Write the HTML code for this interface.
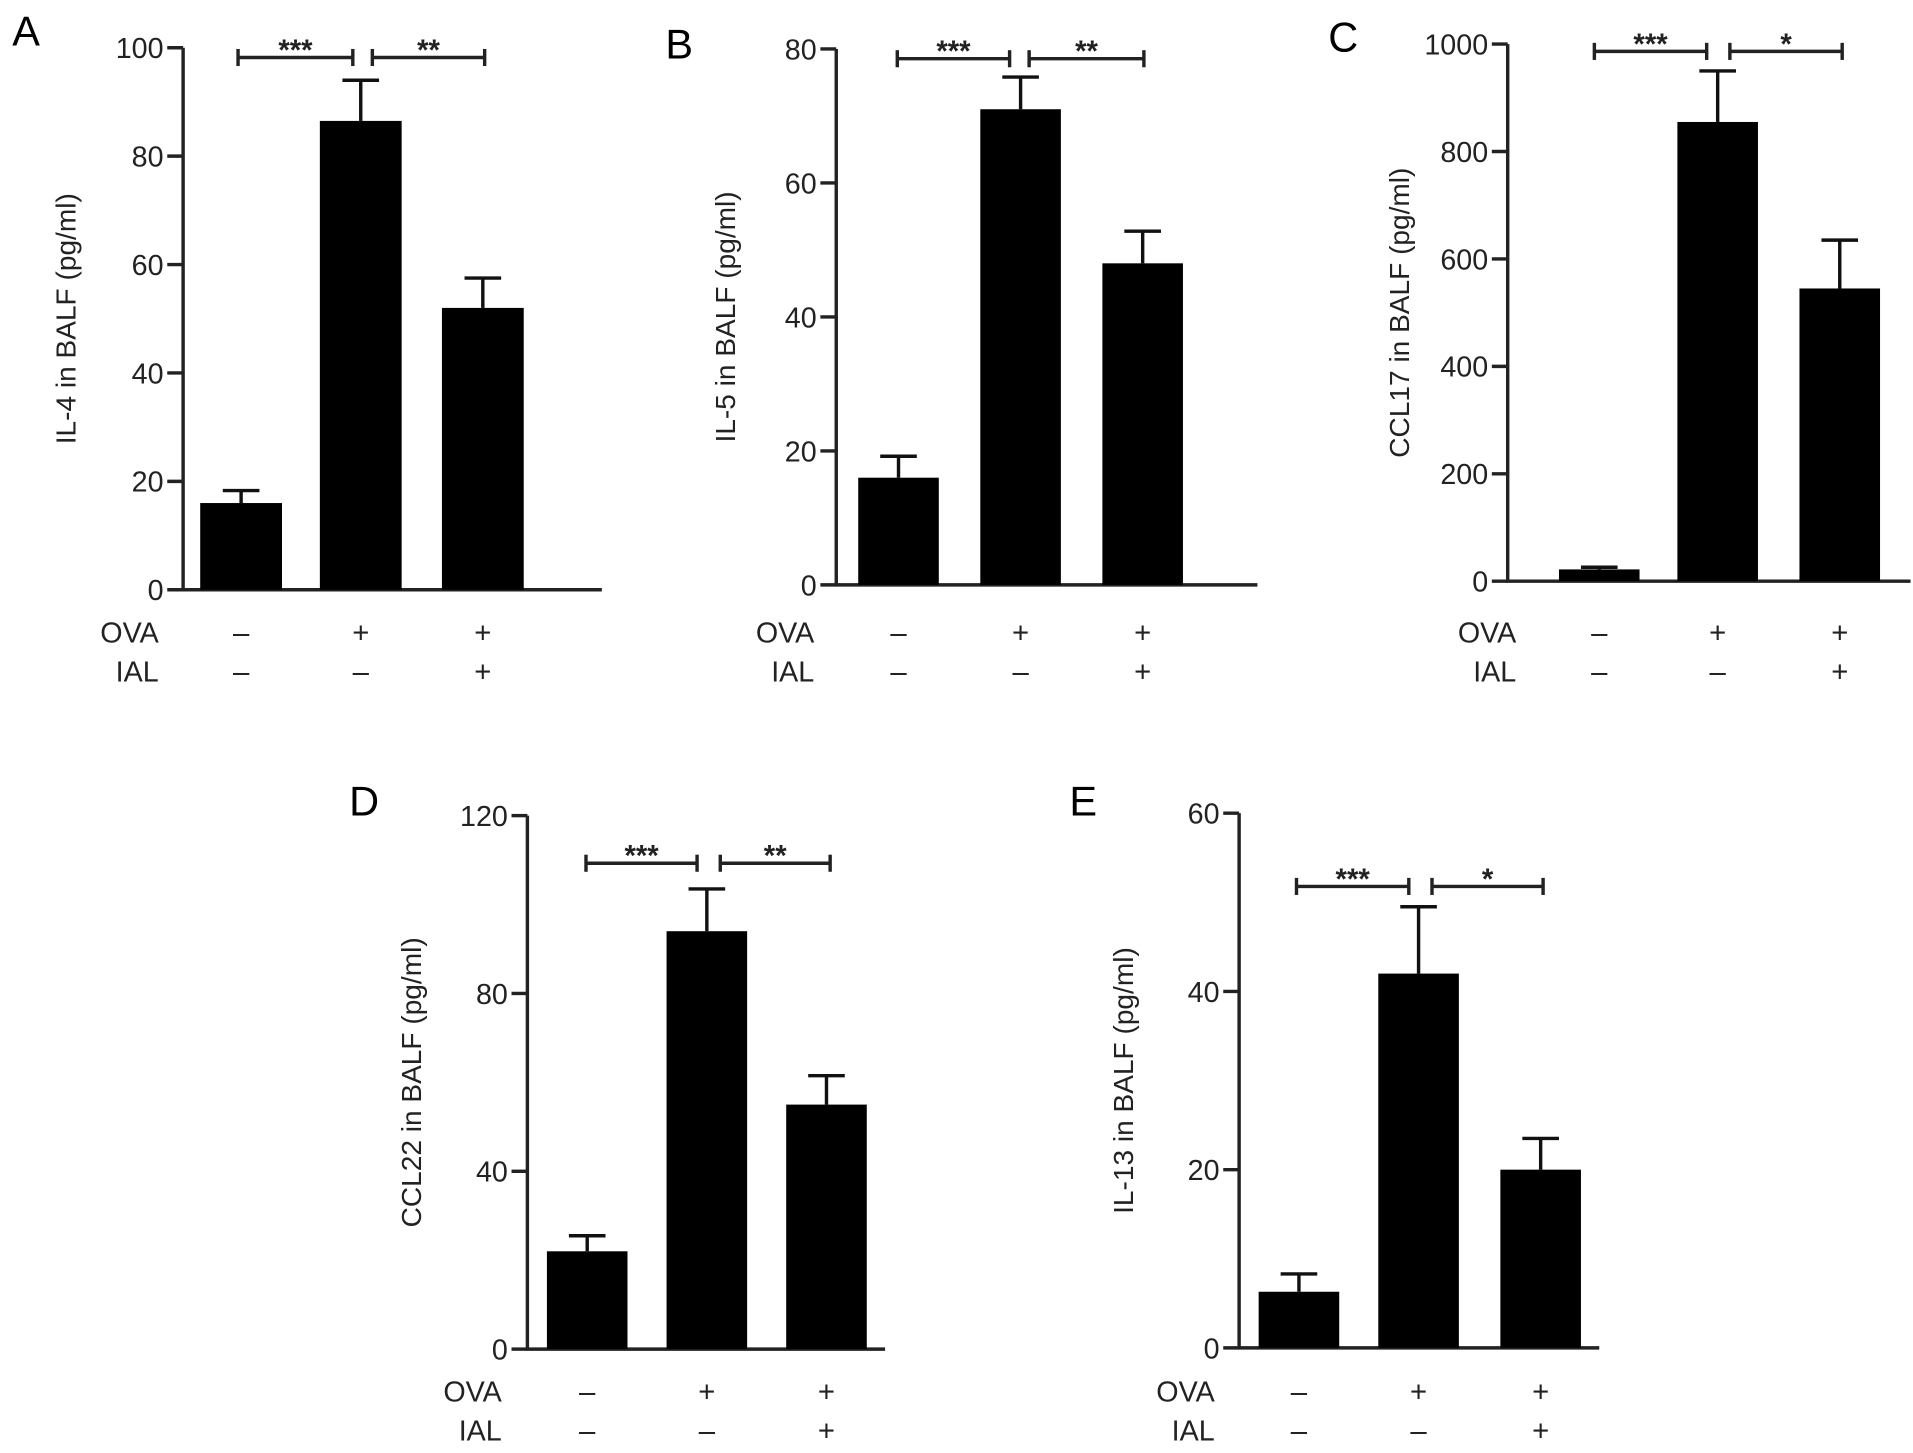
<!DOCTYPE html>
<html><head><meta charset="utf-8"><style>
html,body{margin:0;padding:0;background:#fff;}
svg{display:block;font-family:"Liberation Sans",Arial,sans-serif;}
</style></head><body>
<svg id="fig" width="1913" height="1453" viewBox="0 0 1567 1190" xmlns="http://www.w3.org/2000/svg"></svg>
<script>
const panelIds = ["A","B","C","D","E"];
const yLabels = ["IL-4 in BALF (pg/ml)","IL-5 in BALF (pg/ml)","CCL17 in BALF (pg/ml)","CCL22 in BALF (pg/ml)","IL-13 in BALF (pg/ml)"];
const yMaxes = [100,80,1000,120,60];
const yTicks = [[0,20,40,60,80,100],[0,20,40,60,80],[0,200,400,600,800,1000],[0,40,80,120],[0,20,40,60]];
const meansA=[16,86.5,52], errA=[2.3,7.5,5.5];
const meansB=[16,71,48], errB=[3.2,4.8,4.8];
const meansC=[22,855,545], errC=[4,95,90];
const meansD=[22,94,55], errD=[3.5,9.5,6.5];
const meansE=[6.3,42,20], errE=[2,7.5,3.5];
const ova=["–","+","+"], ial=["–","–","+"];
const sigs=[["***","**"],["***","**"],["***","*"],["***","**"],["***","*"]];
const means=[meansA,meansB,meansC,meansD,meansE];
const errs=[errA,errB,errC,errD,errE];
const L=[
 {ax:150,top:39,zero:483,xend:493,bars:[164,262,362],bw:67,br:47,b1:[195,289],b2:[305,397],lx:10,ly:37,ylx:62,rowr:130,r1:526,r2:558},
 {ax:685,top:40,zero:479,xend:1030,bars:[703,803,903],bw:66,br:48,b1:[735,827],b2:[843,937],lx:545,ly:48,ylx:602,rowr:667,r1:526,r2:558},
 {ax:1235,top:36,zero:476,xend:1565,bars:[1277,1374,1474],bw:66,br:42,b1:[1306,1398],b2:[1417,1509],lx:1088,ly:42,ylx:1154,rowr:1242,r1:526,r2:558},
 {ax:432,top:668,zero:1105,xend:725,bars:[448,546,644],bw:66,br:707,b1:[480,571],b2:[590,680],lx:286,ly:668,ylx:345,rowr:411,r1:1148,r2:1180},
 {ax:1015,top:666,zero:1104,xend:1310,bars:[1031,1129,1229],bw:66,br:726,b1:[1062,1154],b2:[1173,1264],lx:876,ly:668,ylx:928,rowr:995,r1:1148,r2:1180}
];
const svg=document.getElementById('fig');
const NS="http://www.w3.org/2000/svg";
function mk(tag,attrs,parent,text){const e=document.createElementNS(NS,tag);for(const k in attrs)e.setAttribute(k,attrs[k]);if(text!==undefined)e.textContent=text;parent.appendChild(e);return e;}
L.forEach((p,i)=>{
  const g=mk('g',{},svg);
  
  
  const y=v=>p.zero-(v/yMaxes[i])*(p.zero-p.top);
  const lt=mk('text',{x:p.lx,y:p.ly,'font-size':34},g,panelIds[i]);
  
  
  const ya=mk('line',{x1:p.ax,y1:p.top,x2:p.ax,y2:p.zero,stroke:'#222','stroke-width':2.8},g);
  
  
  const xa=mk('line',{x1:p.ax-1,y1:p.zero,x2:p.xend,y2:p.zero,stroke:'#222','stroke-width':2.8},g);
  
  
  yTicks[i].forEach(t=>{
    mk('line',{x1:p.ax-13,y1:y(t),x2:p.ax,y2:y(t),stroke:'#222','stroke-width':2.8},g);
    const tl=mk('text',{x:p.ax-16,y:y(t)+8.5,'font-size':23.5,'text-anchor':'end',fill:'#222'},g,String(t));
    
    
  });
  const cy=(p.top+p.zero)/2;
  const yl=mk('text',{x:p.ylx,y:cy,'font-size':23,'text-anchor':'middle',transform:`rotate(-90 ${p.ylx} ${cy})`,fill:'#222'},g,yLabels[i]);
  
  
  means[i].forEach((m,j)=>{
    const x0=p.bars[j], cx=x0+p.bw/2, top=y(m), et=y(m+errs[i][j]);
    mk('line',{x1:cx,y1:top,x2:cx,y2:et,stroke:'#111','stroke-width':2.8},g);
    mk('line',{x1:cx-15,y1:et,x2:cx+15,y2:et,stroke:'#111','stroke-width':2.8},g);
    const b=mk('rect',{x:x0,y:top,width:p.bw,height:p.zero-top,fill:'#000'},g);
    
    
    const o=mk('text',{x:cx,y:p.r1,'font-size':24,'text-anchor':'middle',fill:'#222'},g,ova[j]);
    
    
    const a=mk('text',{x:cx,y:p.r2,'font-size':24,'text-anchor':'middle',fill:'#222'},g,ial[j]);
    
    
  });
  const ro=mk('text',{x:p.rowr,y:p.r1,'font-size':23.5,'text-anchor':'end',fill:'#222'},g,'OVA');
  
  
  const ri=mk('text',{x:p.rowr,y:p.r2,'font-size':23.5,'text-anchor':'end',fill:'#222'},g,'IAL');
  
  
  [p.b1,p.b2].forEach((b,k)=>{
    mk('line',{x1:b[0],y1:p.br,x2:b[1],y2:p.br,stroke:'#222','stroke-width':2.8},g);
    mk('line',{x1:b[0],y1:p.br-7,x2:b[0],y2:p.br+7,stroke:'#222','stroke-width':2.8},g);
    mk('line',{x1:b[1],y1:p.br-7,x2:b[1],y2:p.br+7,stroke:'#222','stroke-width':2.8},g);
    const s=mk('text',{x:(b[0]+b[1])/2,y:p.br+2,'font-size':24,'font-weight':'bold','text-anchor':'middle',fill:'#222'},g,sigs[i][k]);
    
    
  });
});
</script>
</body></html>
